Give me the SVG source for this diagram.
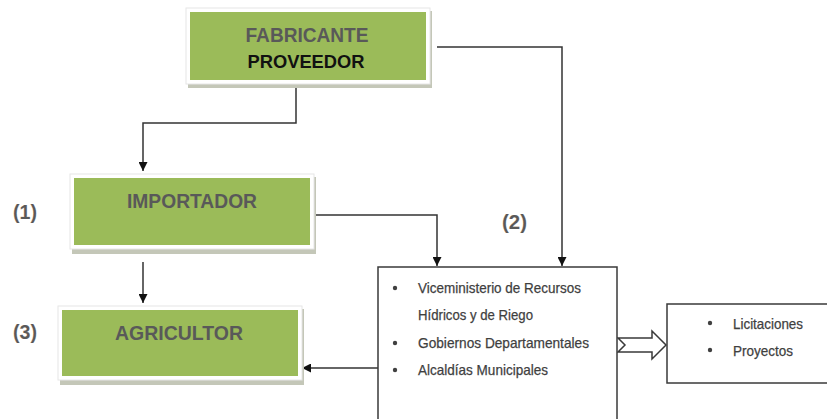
<svg xmlns="http://www.w3.org/2000/svg" width="827" height="419" viewBox="0 0 827 419">
<defs>
<style>
.shadow{fill:#c4c7b8}
.frame{fill:#ffffff;stroke:#e6e6e6;stroke-width:1}
.green{fill:#9bbb59}
.title{font-family:"Liberation Sans",Arial,sans-serif;font-weight:bold;fill:#595959;text-anchor:middle}
.num{font-family:"Liberation Sans",Arial,sans-serif;font-weight:bold;font-size:20px;fill:#595959;stroke:#d9b48a;stroke-width:0.15}
.item{font-family:"Liberation Sans",Arial,sans-serif;font-size:14.5px;fill:#3f3f3f;stroke:#3f3f3f;stroke-width:0.25}
.bullet{fill:#404040}
.box{fill:#ffffff;stroke:#3a3a3a;stroke-width:1.5}
.conn{fill:none;stroke:#333333;stroke-width:1.5}
</style>
<marker id="arrB" viewBox="0 0 10 10" refX="10" refY="5" markerWidth="9" markerHeight="9" orient="auto" markerUnits="userSpaceOnUse">
<path d="M0,0 L10,5 L0,10 Z" fill="#111111"/>
</marker>
</defs>

<g id="connectors">
<polyline class="conn" points="296,87 296,123 143,123 143,171" marker-end="url(#arrB)"/>
<polyline class="conn" points="437,47 562,47 562,266" marker-end="url(#arrB)"/>
<polyline class="conn" points="314,215 437,215 437,266" marker-end="url(#arrB)"/>
<line class="conn" x1="143" y1="262" x2="143" y2="303" marker-end="url(#arrB)"/>
<line class="conn" x1="378" y1="368" x2="302" y2="368" marker-end="url(#arrB)"/>
<path id="hollow-arrow" d="M618,338 L652,338 L652,331 L666,345 L652,359 L652,352 L618,352 L625,345 Z" fill="#ffffff" stroke="#3a3a3a" stroke-width="1.5"/>
</g>

<g id="fabricante">
<rect class="shadow" x="188" y="11" width="244" height="77"/>
<rect class="frame" x="186" y="8" width="244" height="76"/>
<rect class="green" x="190" y="12" width="236" height="68"/>
<text class="title" x="307" y="42" font-size="21" textLength="123" lengthAdjust="spacingAndGlyphs">FABRICANTE</text>
<text class="title" x="306" y="68" font-size="18" style="fill:#111" textLength="117" lengthAdjust="spacingAndGlyphs">PROVEEDOR</text>
</g>

<g id="importador">
<rect class="shadow" x="72" y="177" width="244" height="77"/>
<rect class="frame" x="70" y="174" width="244" height="75"/>
<rect class="green" x="74" y="178" width="236" height="67"/>
<text class="title" x="192" y="208" font-size="21" textLength="130" lengthAdjust="spacingAndGlyphs">IMPORTADOR</text>
</g>

<g id="agricultor">
<rect class="shadow" x="60" y="309" width="244" height="76"/>
<rect class="frame" x="58" y="306" width="244" height="74"/>
<rect class="green" x="62" y="310" width="236" height="66"/>
<text class="title" x="179" y="340" font-size="21" textLength="128" lengthAdjust="spacingAndGlyphs">AGRICULTOR</text>
</g>

<g id="label-1"><text class="num" x="13" y="219" textLength="24" lengthAdjust="spacingAndGlyphs">(1)</text></g>
<g id="label-2"><text class="num" x="502" y="229" textLength="25" lengthAdjust="spacingAndGlyphs">(2)</text></g>
<g id="label-3"><text class="num" x="13" y="339" textLength="24" lengthAdjust="spacingAndGlyphs">(3)</text></g>

<g id="instituciones">
<rect class="box" x="378" y="267" width="239" height="160"/>
<circle class="bullet" cx="395" cy="288" r="2.2"/>
<text class="item" x="418" y="293" textLength="163" lengthAdjust="spacingAndGlyphs">Viceministerio de Recursos</text>
<text class="item" x="418" y="320" textLength="115" lengthAdjust="spacingAndGlyphs">Hídricos y de Riego</text>
<circle class="bullet" cx="395" cy="343" r="2.2"/>
<text class="item" x="418" y="348" textLength="171" lengthAdjust="spacingAndGlyphs">Gobiernos Departamentales</text>
<circle class="bullet" cx="395" cy="370" r="2.2"/>
<text class="item" x="418" y="375" textLength="130" lengthAdjust="spacingAndGlyphs">Alcaldías Municipales</text>
</g>

<g id="modalidades">
<rect class="box" x="667" y="304" width="170" height="79"/>
<circle class="bullet" cx="710" cy="323" r="2.2"/>
<text class="item" x="733" y="329" textLength="70" lengthAdjust="spacingAndGlyphs">Licitaciones</text>
<circle class="bullet" cx="710" cy="350" r="2.2"/>
<text class="item" x="733" y="356" textLength="60" lengthAdjust="spacingAndGlyphs">Proyectos</text>
</g>
</svg>
